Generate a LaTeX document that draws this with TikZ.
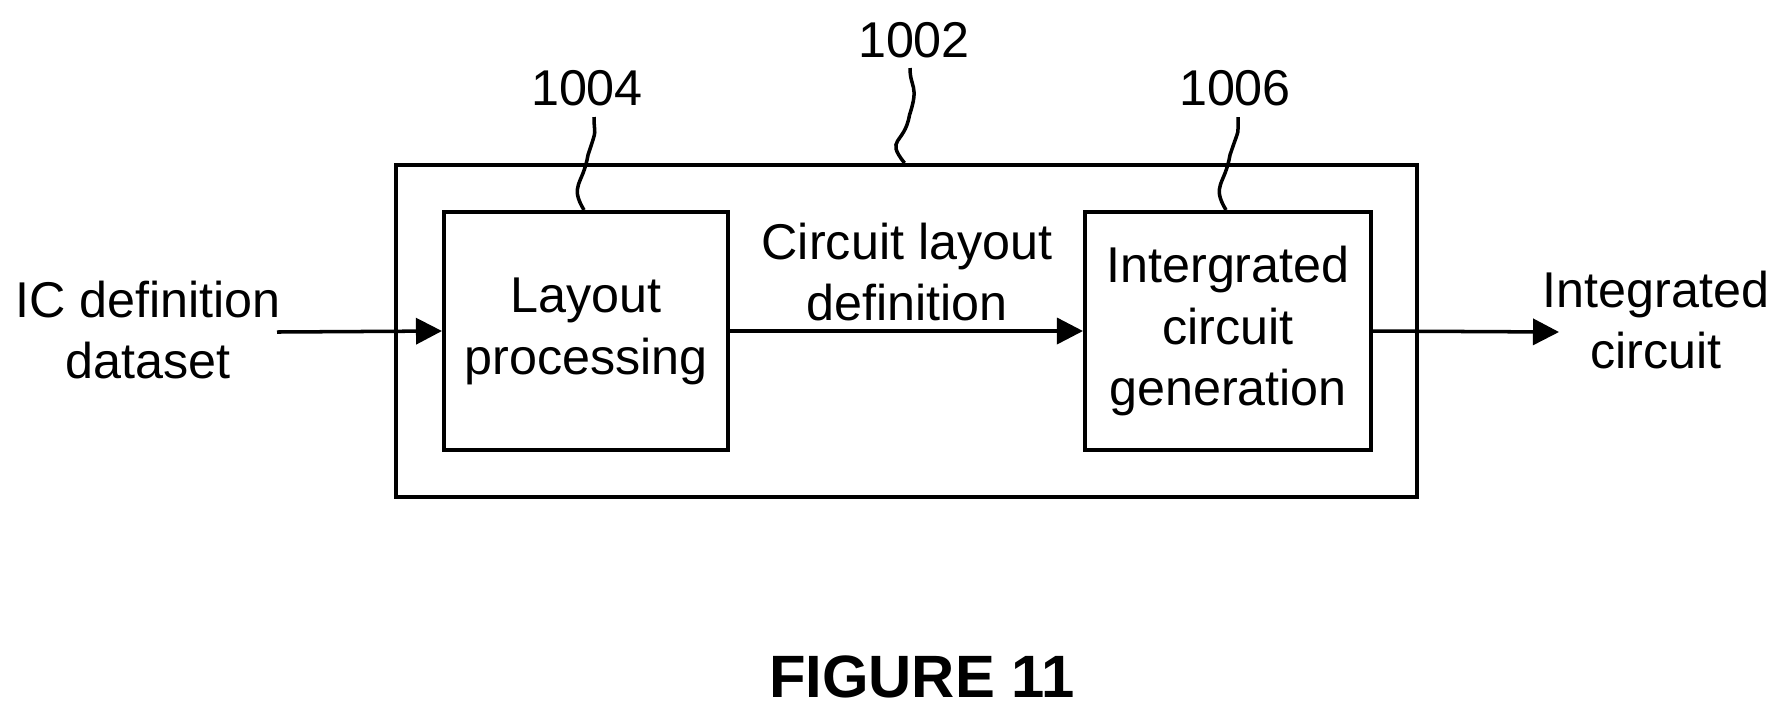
\documentclass[tikz,border=0pt]{standalone}
\usepackage{fontspec}
\setmainfont{Liberation Sans}
\usetikzlibrary{arrows.meta}
\begin{document}
\begin{tikzpicture}[x=0.01cm, y=-0.01cm, line width=1pt]
    \tikzstyle{block} = [rectangle, draw, line width=1.1pt, minimum width=2.84cm, minimum height=2.38cm, text centered, align=center, font=\fontsize{14.3}{17.6}\selectfont]
    \tikzstyle{label} = [align=center, font=\fontsize{14.3}{17.6}\selectfont]
    \tikzstyle{flow} = [-{Triangle[length=0.26cm, width=0.26cm]}]
    \useasboundingbox (0,0) rectangle (1775,714);

    % Outer system box
    \node [rectangle, draw, line width=1.1pt, minimum width=10.21cm, minimum height=3.32cm] (system) at (906.5,331) {};

    % Inner blocks
    \node [block] (layout) at (586,331) {Layout\\processing};
    \node [block, minimum width=2.86cm] (icgen) at (1228,331) {Intergrated\\circuit\\generation};

    % Input and output texts
    \node [label] (input) at (148,330) {IC definition\\dataset};
    \node [label] (output) at (1656,320) {Integrated\\circuit};
    \node [label] (cld) at (907,272) {Circuit layout\\definition};
    \coordinate (in_start) at (277,332);
    \coordinate (out_end) at (1559,332);

    % Reference numerals
    \node [font=\fontsize{14.3}{17.6}\selectfont] (n1002) at (914,40) {1002};
    \node [font=\fontsize{14.3}{17.6}\selectfont] (n1004) at (587,88) {1004};
    \node [font=\fontsize{14.3}{17.6}\selectfont] (n1006) at (1235,88) {1006};
    \node [font=\bfseries\fontsize{17}{20}\selectfont] (fig) at (922,677) {FIGURE 11};

    % Leader lines
    \draw (system.north) ++(-2,0) .. controls +(-20,-25) and +(-5,30) .. +(5,-48) .. controls +(10,-30) and +(0,20) .. (910,68);
    \draw (layout.north) ++(-2,0) .. controls +(-15,-25) and +(-5,30) .. +(4,-55) .. controls +(10,-30) and +(0,20) .. (594,117);
    \draw (icgen.north) ++(-2,0) .. controls +(-15,-25) and +(-5,30) .. +(4,-55) .. controls +(10,-30) and +(0,20) .. (1238,117);

    % Signal flow
    \draw [flow] (in_start) -- (layout.west);
    \draw [flow] (layout.east) -- (icgen.west);
    \draw [flow] (icgen.east) -- (out_end);
\end{tikzpicture}
\end{document}
